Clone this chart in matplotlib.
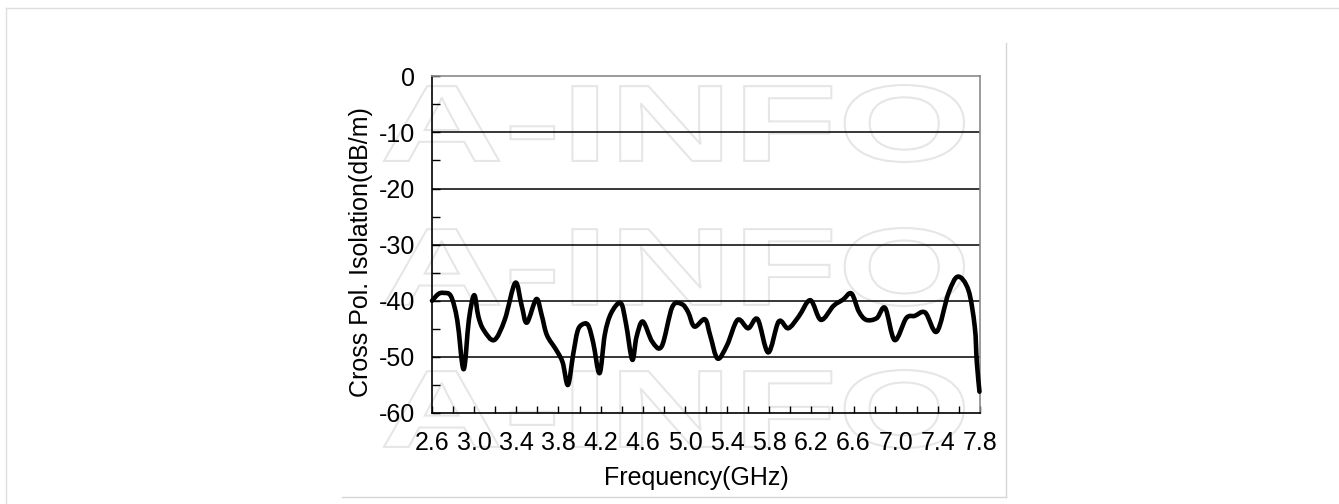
import matplotlib
matplotlib.use("Agg")
import matplotlib.pyplot as plt
from matplotlib.textpath import TextPath
from matplotlib.font_manager import FontProperties
from matplotlib.patches import PathPatch
from matplotlib.path import Path
from matplotlib.lines import Line2D
from matplotlib.transforms import Affine2D
from matplotlib.ticker import MultipleLocator, FixedLocator
import numpy as np

plt.rcParams['font.family'] = ['Liberation Sans', 'DejaVu Sans']
plt.rcParams['axes.unicode_minus'] = False

# ---------------- data ----------------
freq_ghz = [2.60, 2.66, 2.71, 2.78, 2.84, 2.90, 2.95, 3.00, 3.04, 3.09,
            3.19, 3.29, 3.39, 3.45, 3.50, 3.59, 3.64, 3.69, 3.78, 3.84,
            3.89, 3.94, 3.98, 4.02, 4.08, 4.13, 4.19, 4.24, 4.30, 4.39,
            4.44, 4.50, 4.54, 4.60, 4.69, 4.78, 4.88, 4.97, 5.03, 5.09,
            5.19, 5.24, 5.31, 5.40, 5.50, 5.60, 5.69, 5.79, 5.89, 5.98,
            6.08, 6.19, 6.29, 6.41, 6.50, 6.58, 6.65, 6.72, 6.82, 6.90,
            6.99, 7.10, 7.18, 7.28, 7.39, 7.50, 7.59, 7.69, 7.75, 7.77,
            7.795]
isolation_db = [-40.0, -38.8, -38.6, -39.2, -43.5, -52.2, -43.4, -39.0, -42.8, -45.2,
                -47.0, -43.4, -36.8, -40.8, -43.9, -39.7, -42.5, -46.1, -48.8, -51.0,
                -55.0, -49.5, -45.5, -44.3, -44.3, -47.5, -52.9, -46.0, -42.2, -40.4,
                -44.0, -50.5, -46.5, -43.7, -47.3, -48.1, -41.1, -40.6, -42.0, -44.6,
                -43.3, -46.2, -50.3, -47.9, -43.4, -44.9, -43.3, -49.2, -43.7, -44.9,
                -42.8, -39.9, -43.4, -40.9, -39.8, -38.7, -41.9, -43.4, -43.1, -41.3,
                -47.0, -43.1, -42.7, -42.1, -45.5, -38.7, -35.7, -38.1, -44.6, -51.0,
                -56.2]
x_tick_labels = ["2.6", "3.0", "3.4", "3.8", "4.2", "4.6", "5.0",
                 "5.4", "5.8", "6.2", "6.6", "7.0", "7.4", "7.8"]
y_ticks = [0, -10, -20, -30, -40, -50, -60]

W, H = 1339, 504
fig = plt.figure(figsize=(W / 100, H / 100), dpi=100)
fig.patch.set_facecolor('white')

ax_l, ax_r, ax_t, ax_b = 432, 980, 76.3, 413
ax = fig.add_axes([ax_l / W, 1 - ax_b / H, (ax_r - ax_l) / W, (ax_b - ax_t) / H])
ax.set_facecolor('none')

# ---------------- watermark ----------------
fp = FontProperties(family='Liberation Sans', weight='bold')
tp = TextPath((0, 0), "A-INFO", size=100, prop=fp)
ext = tp.get_extents()
wm_x0, wm_x1 = 384, 964
for (top, bot) in [(85, 162), (228, 306), (370, 448)]:
    sx = (wm_x1 - wm_x0) / ext.width / W
    sy = (bot - top) / ext.height / H
    tr = Affine2D().translate(-ext.x0, -ext.y0).scale(sx, sy).translate(wm_x0 / W, 1 - bot / H)
    p = tr.transform_path(tp)
    fig.add_artist(PathPatch(p, transform=fig.transFigure, facecolor='none',
                             edgecolor='#e6e6e6', lw=1.5, zorder=-1))

# ---------------- frames ----------------
def fline(xs, ys, c, lw=1.0):
    fig.add_artist(Line2D([x / W for x in xs], [1 - y / H for y in ys],
                          transform=fig.transFigure, color=c, lw=lw, zorder=-2))

fline([6, W], [8, 8], '#dedede')
fline([6, 6], [8, H], '#dedede')
fline([1006, 1006], [43, 497], '#d6d6d6')
fline([342, 1006], [497, 497], '#d6d6d6')

# ---------------- chart ----------------
for yv in y_ticks[1:-1]:
    ax.axhline(yv, color='black', lw=1.1, zorder=1)

# smoothed line (Excel-style Bezier through the measured points)
pts = np.column_stack([freq_ghz, isolation_db])
n = len(pts)
verts = [pts[0]]
codes = [Path.MOVETO]
for i in range(n - 1):
    p0 = pts[max(i - 1, 0)]
    p1 = pts[i]
    p2 = pts[i + 1]
    p3 = pts[min(i + 2, n - 1)]
    c1 = p1 + (p2 - p0) / 6.0
    c2 = p2 - (p3 - p1) / 6.0
    verts += [c1, c2, p2]
    codes += [Path.CURVE4] * 3
curve = PathPatch(Path(verts, codes), transform=ax.transData, facecolor='none',
                  edgecolor='black', lw=3.3, capstyle='round', joinstyle='round',
                  zorder=3, clip_on=False)
ax.add_patch(curve)

ax.set_xlim(2.6, 7.8)
ax.set_ylim(-60, 0)
ax.xaxis.set_major_locator(FixedLocator([float(s) for s in x_tick_labels]))
ax.set_xticklabels(x_tick_labels)
ax.xaxis.set_minor_locator(MultipleLocator(0.2))
ax.set_yticks(y_ticks)
ax.set_yticklabels([str(v) for v in y_ticks])
ax.yaxis.set_minor_locator(MultipleLocator(5))

ax.tick_params(axis='both', which='both', direction='in', colors='black', width=1.0)
ax.tick_params(axis='x', which='both', length=5, labelsize=18, pad=13)
ax.tick_params(axis='y', which='both', length=5.5, labelsize=18, pad=12)

for s in ['left', 'bottom']:
    ax.spines[s].set_color('black')
    ax.spines[s].set_linewidth(1.2)
for s in ['top', 'right']:
    ax.spines[s].set_color('#8a8a8a')
    ax.spines[s].set_linewidth(1.2)

ax.set_xlabel('Frequency(GHz)', fontsize=18)
ax.set_ylabel('Cross Pol. Isolation(dB/m)', fontsize=18)
ax.xaxis.set_label_coords((696 - ax_l) / (ax_r - ax_l), (ax_b - 478) / (ax_b - ax_t))
ax.yaxis.set_label_coords((361 - ax_l) / (ax_r - ax_l), (ax_b - 252) / (ax_b - ax_t))
ax.xaxis.label.set_va('center')
ax.yaxis.label.set_va('center')

fig.savefig('out.png', dpi=100)
